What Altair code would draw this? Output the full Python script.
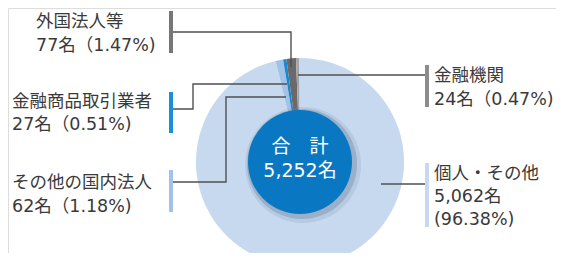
import altair as alt
import pandas as pd
import math

# ---- data ----
categories = ["個人・その他", "その他の国内法人", "金融商品取引業者", "外国法人等", "金融機関"]
counts = [5062, 62, 27, 77, 24]
shares = ["96.38%", "1.18%", "0.51%", "1.47%", "0.47%"]
colors = ["#c6d9ef", "#a2c3e8", "#1b87cf", "#6a6a6d", "#a4a4a7"]
bar_colors = ["#c6d9ef", "#a2c3e8", "#1b8fd6", "#77777a", "#8c8c8f"]
total_lines = ["合　計", "5,252名"]

# ---- layout (pixel positions in page coordinates) ----
CX, CY, R, R_IN = 300, 162, 104, 52
START = -0.01
FONT = "DejaVu Sans, Noto Sans CJK JP"
label_pos = {
    "外国法人等": dict(tx=36, ty=[20, 44], bx=171, by=(11, 53)),
    "金融商品取引業者": dict(tx=12, ty=[100, 123], bx=171, by=(92, 133)),
    "その他の国内法人": dict(tx=12, ty=[181, 205], bx=171, by=(170, 212)),
    "金融機関": dict(tx=434, ty=[74, 98], bx=427, by=(65, 107)),
    "個人・その他": dict(tx=434, ty=[172, 195, 218], bx=427, by=(163, 227)),
}
leaders = {
    "外国法人等": [(173, 32), (291, 32), (291, 67)],
    "金融商品取引業者": [(173, 109), (193, 109), (193, 84), (287, 84)],
    "その他の国内法人": [(173, 182), (226, 182), (226, 97), (286, 97)],
    "金融機関": [(298, 75), (427, 75)],
    "個人・その他": [(381, 184), (427, 184)],
}

W, H = 548, 245
xs = alt.Scale(domain=[8, 8 + W], nice=False, zero=False)
ys = alt.Scale(domain=[8 + H, 8], nice=False, zero=False)

pie_df = pd.DataFrame({"cat": categories, "n": counts, "idx": range(len(categories)), "col": colors})
pie = alt.Chart(pie_df).mark_arc(radius=R, stroke=None).encode(
    theta=alt.Theta("n:Q", stack=True, scale=alt.Scale(range=[START, START + 2 * math.pi])),
    order=alt.Order("idx:Q"),
    color=alt.Color("col:N", scale=None),
    x=alt.value(CX - 8), y=alt.value(CY - 8),
)

# label texts
rows = []
for cat, n, s in zip(categories, counts, shares):
    if cat == "個人・その他":
        lines = [cat, f"{n:,}名", f"({s})"]
    else:
        lines = [cat, f"{n:,}名（{s})"]
    p = label_pos[cat]
    for t, yy in zip(lines, p["ty"]):
        rows.append(dict(x=p["tx"], y=yy, t=t))
txt = alt.Chart(pd.DataFrame(rows)).mark_text(
    align="left", baseline="middle", font=FONT, fontSize=17.5, color="#3a3a3a", dy=2
).encode(x=alt.X("x:Q", scale=xs, axis=None), y=alt.Y("y:Q", scale=ys, axis=None), text="t:N")

# colored bars
brows = []
for cat, bc in zip(categories, bar_colors):
    p = label_pos[cat]
    brows.append(dict(x=p["bx"], y=p["by"][0], y2=p["by"][1], c=bc))
bars = alt.Chart(pd.DataFrame(brows)).mark_rule(strokeWidth=4).encode(
    x=alt.X("x:Q", scale=xs, axis=None), y=alt.Y("y:Q", scale=ys, axis=None), y2="y2:Q",
    color=alt.Color("c:N", scale=None),
)

# leader lines
lrows = []
for cat, pts in leaders.items():
    for i, (px, py) in enumerate(pts):
        lrows.append(dict(seg=cat, o=i, x=px, y=py))
lines = alt.Chart(pd.DataFrame(lrows)).mark_line(strokeWidth=1.4, color="#505050").encode(
    x=alt.X("x:Q", scale=xs, axis=None), y=alt.Y("y:Q", scale=ys, axis=None),
    detail="seg:N", order="o:Q",
)

# center circle with shadow
one = pd.DataFrame({"v": [1]})
shadow1 = alt.Chart(one).mark_arc(radius=R_IN + 6, color="#6f86a6", opacity=0.18).encode(
    theta=alt.Theta("v:Q"), x=alt.value(CX - 8 + 3), y=alt.value(CY - 8 + 3))
shadow2 = alt.Chart(one).mark_arc(radius=R_IN + 3, color="#5a6f8c", opacity=0.3).encode(
    theta=alt.Theta("v:Q"), x=alt.value(CX - 8 + 2), y=alt.value(CY - 8 + 2))
center = alt.Chart(one).mark_arc(radius=R_IN, color="#0a77c2").encode(
    theta=alt.Theta("v:Q"), x=alt.value(CX - 8), y=alt.value(CY - 8))
ctext = alt.Chart(pd.DataFrame({"t": total_lines, "x": [CX, CX], "y": [146, 170]})).mark_text(
    align="center", baseline="middle", font=FONT, fontSize=19, color="white", dy=1
).encode(x=alt.X("x:Q", scale=xs, axis=None), y=alt.Y("y:Q", scale=ys, axis=None), text="t:N")

chart = alt.layer(pie, lines, bars, txt, shadow1, shadow2, center, ctext).resolve_scale(
    theta="independent"
).properties(
    width=W, height=H, autosize=alt.AutoSizeParams(type="none"), padding=0
).configure_view(stroke=None).configure(background="white")

chart.save("out.html", embed_options={"renderer": "svg", "actions": False})
